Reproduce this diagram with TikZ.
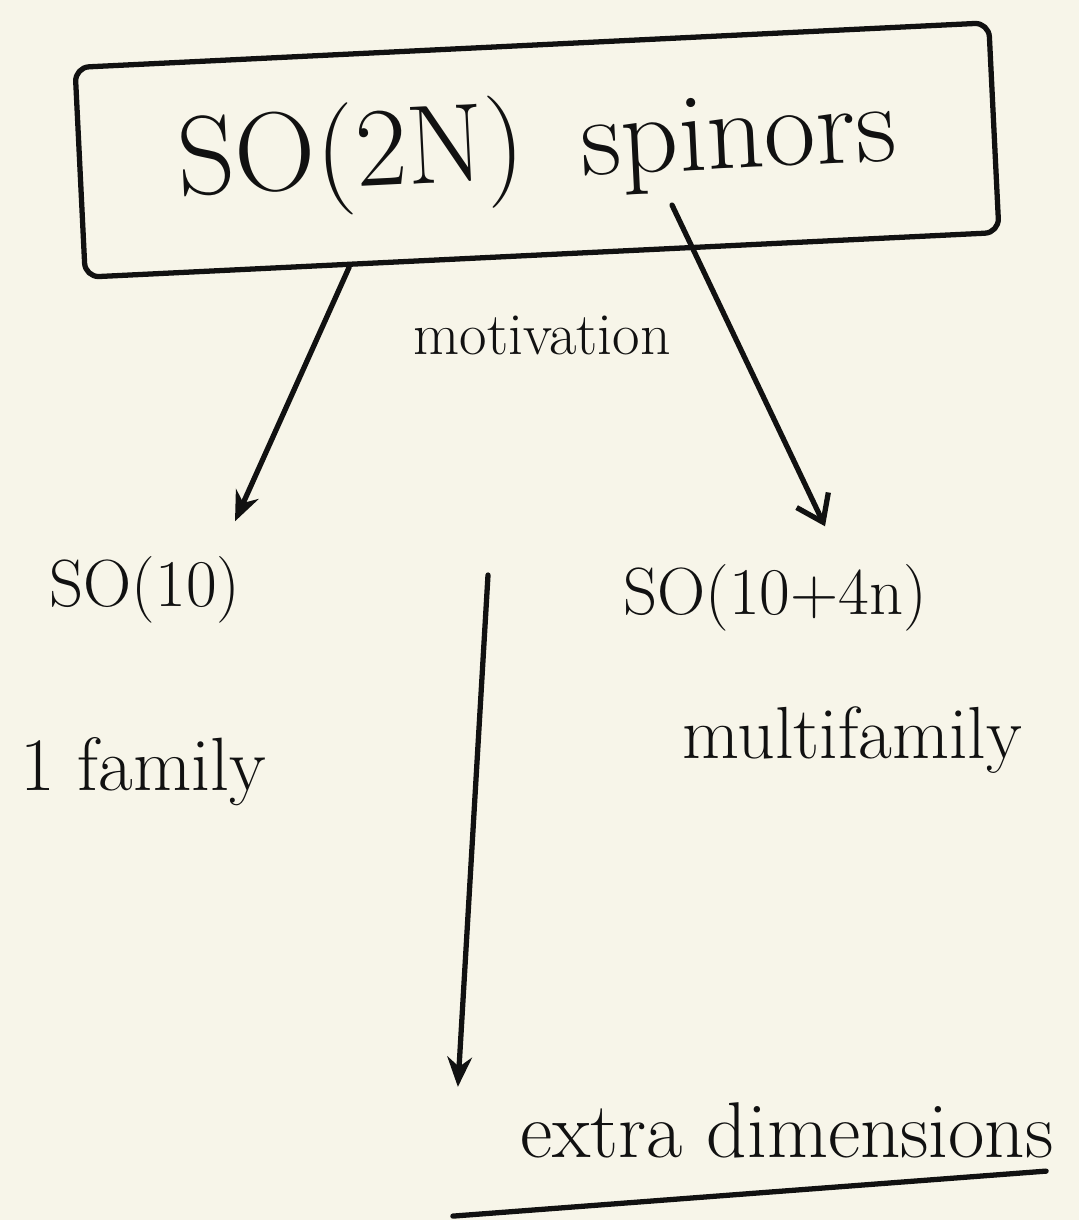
\documentclass[tikz,border=0pt]{standalone}
\usetikzlibrary{arrows.meta,calc}
\definecolor{paper}{HTML}{F7F5E9}
\definecolor{ink}{HTML}{111111}
\tikzset{
  pen/.style={draw=ink, line width=3pt, line cap=round, line join=round},
  conn/.style={pen, -{Stealth[length=17pt,width=14pt]}},
  barb/.style={pen, -{Straight Barb[length=14pt,width=20pt]}},
  label/.style={text=ink, inner sep=0pt},
}
\begin{document}
\begin{tikzpicture}[x=0.02cm,y=-0.02cm]
  % page
  \fill[paper] (0,0) rectangle (1079,1220);
  \useasboundingbox (0,0) rectangle (1079,1220);

  % title frame
  \node[pen, rounded corners=8pt, rotate=2.8, minimum width=18.3cm, minimum height=4.2cm,
        font=\fontsize{64}{74}\selectfont, text=ink] (box) at (537,150) {SO(2N)\enspace spinors};

  \node[label, font=\fontsize{34}{40}\selectfont] (mot) at (542,335) {motivation};

  % the two cases
  \node[label, font=\fontsize{38}{45}\selectfont] (so10) at (145,590) {SO(10)};
  \node[label, font=\fontsize{43}{51}\selectfont] (one) at (143,772) {1 family};
  \node[label, font=\fontsize{38}{45}\selectfont] (so104n) at (775,598) {SO(10+4n)};
  \node[label, font=\fontsize{42}{50}\selectfont] (multi) at (852,740) {multifamily};

  % bottom outcome
  \node[label, font=\fontsize{45}{54}\selectfont] (extra) at (787,1130) {extra dimensions};
  \draw[pen] ($(extra.south west)+(-67,58)$) -- ($(extra.south east)+(-8,13)$);

  % connectors
  \draw[conn] ($(box.south west)!0.29!(box.south east)$) -- ($(so10.north)+(90,-35)$);
  \draw[barb] ($(box.center)+(135,55)$) -- ($(so104n.north)+(50,-38)$);
  \coordinate (v0) at (488,575);
  \draw[conn] (v0) -- ($(extra.north west)+(-62,-15)$);
\end{tikzpicture}
\end{document}
